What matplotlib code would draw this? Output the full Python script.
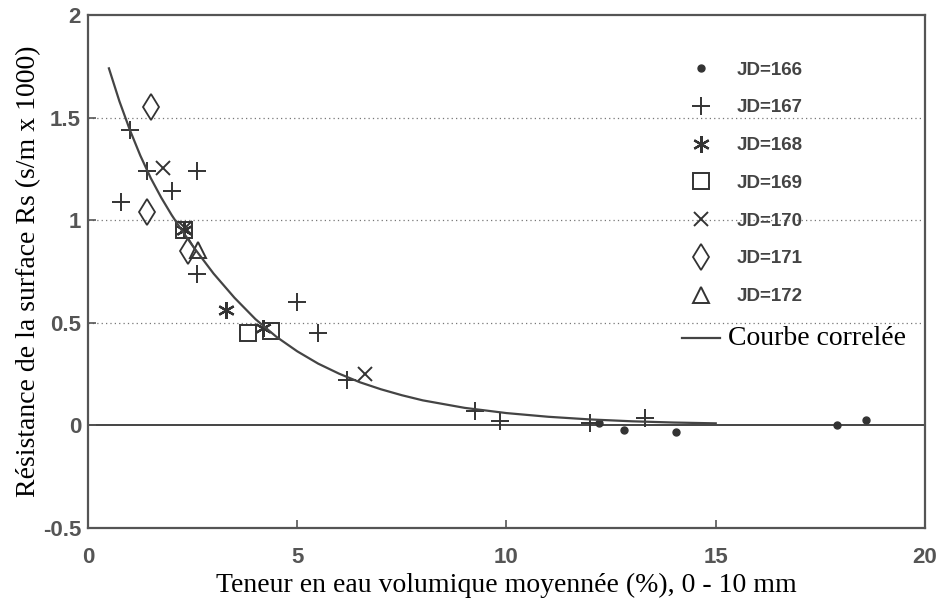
import numpy as np
import matplotlib
matplotlib.use('Agg')
import matplotlib.pyplot as plt
import matplotlib.transforms as mtransforms

# values
jd166_x = [12.2, 12.8, 14.05, 17.9, 18.6]
jd166_y = [0.01, -0.02, -0.03, 0.0, 0.025]

jd167_x = [0.8, 1.0, 1.4, 2.0, 2.6, 2.6, 5.0, 5.5, 6.2, 9.25, 9.85, 12.0, 13.3]
jd167_y = [1.09, 1.44, 1.24, 1.14, 1.24, 0.74, 0.60, 0.45, 0.22, 0.07, 0.02, 0.01, 0.035]

jd168_x = [2.3, 3.3, 4.18]
jd168_y = [0.95, 0.56, 0.475]

jd169_x = [2.3, 3.82, 4.37]
jd169_y = [0.95, 0.45, 0.46]

jd170_x = [1.8, 2.32, 6.62]
jd170_y = [1.255, 0.96, 0.25]

jd171_x = [1.5, 1.4, 2.4]
jd171_y = [1.55, 1.04, 0.85]

jd172_x = [2.63]
jd172_y = [0.855]

# correlated curve
curve_x = [0.5, 0.75, 1.0, 1.25, 1.5, 1.75, 2.0, 2.25, 2.5, 3.0, 3.5, 4.0, 4.5, 5.0,
           5.5, 6.0, 6.5, 7.0, 7.5, 8.0, 9.0, 10.0, 11.0, 12.0, 13.0, 14.0, 15.0]
curve_y = [1.74, 1.58, 1.44, 1.315, 1.205, 1.11, 1.025, 0.948, 0.875, 0.74, 0.622,
           0.518, 0.432, 0.361, 0.301, 0.252, 0.21, 0.176, 0.147, 0.122, 0.0855,
           0.06, 0.042, 0.029, 0.02, 0.014, 0.01]

ink = '#333333'

fig = plt.figure(figsize=(9.43, 5.99), dpi=100)
ax = fig.add_axes([88 / 943, 1 - 528 / 599, (925 - 88) / 943, (528 - 15) / 599])

# grid lines
for yv in [0.5, 1.0, 1.5]:
    ax.axhline(yv, color='#777777', lw=0.9, ls=(0, (1, 2.5)), zorder=1)
ax.axhline(0, color='#444444', lw=1.4, zorder=1)

ax.plot(jd166_x, jd166_y, ls='none', marker='o', ms=5, color=ink, label='JD=166')
ax.plot(jd167_x, jd167_y, ls='none', marker='+', ms=13, mew=1.4, color=ink, label='JD=167')
ax.plot(jd168_x, jd168_y, ls='none', marker=(6, 2, 0), ms=12, mew=1.6, color=ink, label='JD=168')
ax.plot(jd169_x, jd169_y, ls='none', marker='s', ms=11, mew=1.4, mfc='none', color=ink, label='JD=169')
ax.plot(jd170_x, jd170_y, ls='none', marker='x', ms=10, mew=1.4, color=ink, label='JD=170')
ax.plot(jd171_x, jd171_y, ls='none', marker='d', ms=13, mew=1.3, mfc='none', color=ink, label='JD=171')
ax.plot(jd172_x, jd172_y, ls='none', marker='^', ms=12, mew=1.4, mfc='none', color=ink, label='JD=172')
ax.plot(curve_x, curve_y, color='#444444', lw=1.6, label='Courbe correlée')

ax.set_xlim(0, 20)
ax.set_ylim(-0.5, 2)
ax.set_xticks([0, 5, 10, 15, 20])
ax.set_xticklabels(['0', '5', '10', '15', '20'])
ax.set_yticks([-0.5, 0, 0.5, 1, 1.5, 2])
ax.set_yticklabels(['-0.5', '0', '0.5', '1', '1.5', '2'])
ax.tick_params(direction='in', length=6, width=1.2, color='#555555',
               labelcolor='#555555', labelsize=16)
ax.tick_params(axis='x', pad=14)
ax.tick_params(axis='y', pad=5)
for lab in ax.get_xticklabels() + ax.get_yticklabels():
    lab.set_fontweight('bold')
    lab.set_family('Liberation Sans')
for sp in ax.spines.values():
    sp.set_color('#555555')
    sp.set_linewidth(1.6)

ax.set_xlabel('Teneur en eau volumique moyennée (%), 0 - 10 mm',
              family='Liberation Serif', fontsize=20, labelpad=3)
ax.set_ylabel('Résistance de la surface Rs (s/m x 1000)',
              family='Liberation Serif', fontsize=20, labelpad=1)

leg = ax.legend(loc='upper left', bbox_to_anchor=(0.701, 0.924), frameon=False,
                prop={'family': 'Liberation Sans', 'weight': 'bold', 'size': 13.5},
                handlelength=2.0, handletextpad=0.9, labelspacing=1.1,
                borderaxespad=0)
for txt in leg.get_texts():
    txt.set_color('#444444')
last = leg.get_texts()[-1]
last.set_fontproperties({'family': 'Liberation Serif', 'size': 20})
last.set_color('black')
# the serif label sits a little to the left in the original
last.set_transform(last.get_transform() + mtransforms.Affine2D().translate(-9, 0))

fig.savefig('out.png', dpi=100)
